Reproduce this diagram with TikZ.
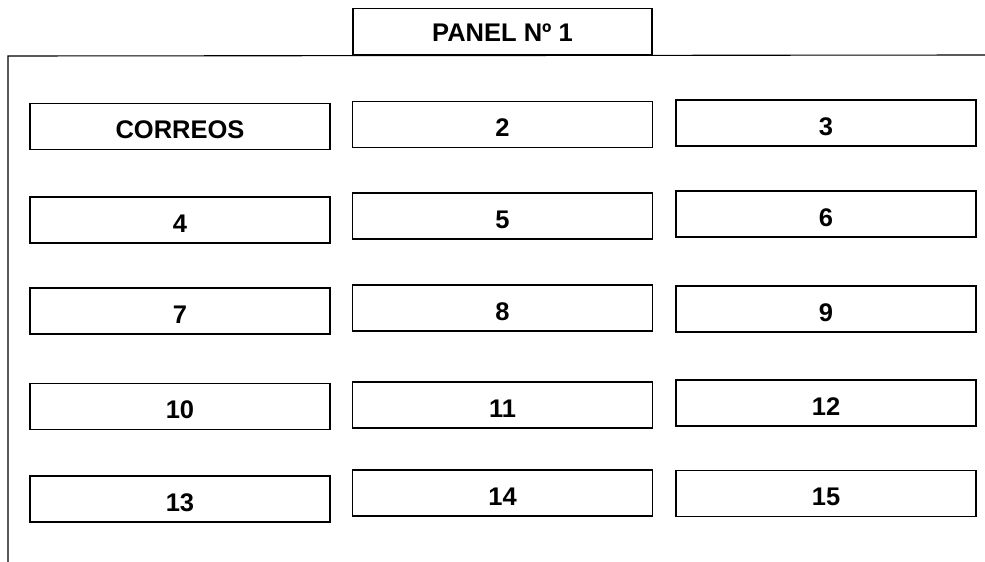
\documentclass[tikz,border=0pt]{standalone}
\usepackage{fontspec}
\setmainfont{Liberation Sans}
\begin{document}
\begin{tikzpicture}[x=1pt,y=-1pt,
  slot/.style={draw=black,line width=1.3pt,fill=white,inner sep=0pt,text height=24pt,text depth=0pt,font=\bfseries\fontsize{25.5}{28}\selectfont},
  frame/.style={draw=black,line width=1.1pt}]
\useasboundingbox (0,0) rectangle (985,562);
% outer frame (open at right and bottom)
\coordinate (ftr) at (985,55);
\coordinate (ftl) at (8,56);
\coordinate (fbl) at (8,562);
\draw[frame] (ftr) -- (ftl) -- (fbl);
% title
\node[slot,minimum width=299pt,minimum height=46pt,text height=20pt] (title) at (502.5,31.5) {PANEL Nº 1};
% boxes: name, center x, center y
\foreach \n/\cx/\cy/\t in {
  c1/180/126.5/CORREOS, c2/502.5/124.5/2, c3/826/123/3,
  c4/180/220/4, c5/502.5/216/5, c6/826/214/6,
  c7/180/311/7, c8/502.5/308/8, c9/826/309/9,
  c10/180/406.5/10, c11/502.5/405/11, c12/826/403/12,
  c13/180/499/13, c14/502.5/493/14, c15/826/493.5/15}{
  \node[slot,minimum width=300pt,minimum height=46pt] (\n) at (\cx,\cy) {\t};
}
\end{tikzpicture}
\end{document}
